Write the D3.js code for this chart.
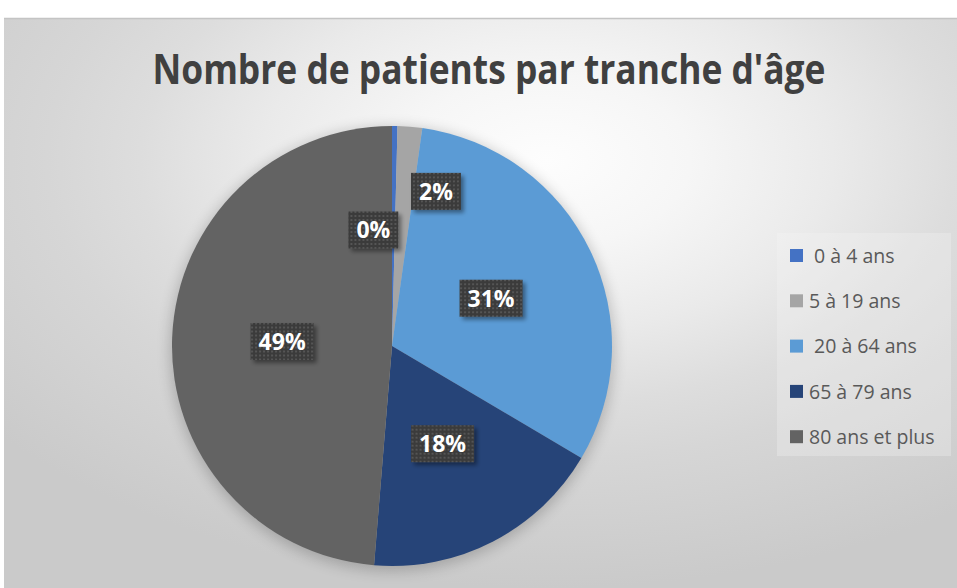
<!DOCTYPE html>
<html><head><meta charset="utf-8">
<script src="https://cdn.jsdelivr.net/npm/d3@7/dist/d3.min.js"></script>
<style>html,body{margin:0;padding:0;background:#fff;}svg{display:block;}</style>
</head><body>
<script>
const title = "Nombre de patients par tranche d'âge";
const categories = [" 0 à 4 ans", "5 à 19 ans", " 20 à 64 ans", "65 à 79 ans", "80 ans et plus"];
const values = [0.4, 1.8, 31.3, 17.8, 48.7];
const labelTexts = ["0%", "2%", "31%", "18%", "49%"];
const colors = ["#4472C4", "#A5A5A5", "#5B9BD5", "#264478", "#636363"];
// best-fit nudges Excel applied to small-slice labels
const labelNudges = [[-20, -6], [35, -45], [0, 0], [0, 0], [0, 0]];

const W = 957, H = 588;
const svg = d3.select("body").append("svg").attr("width", W).attr("height", H);
const defs = svg.append("defs");

const grad = defs.append("radialGradient").attr("id", "bg")
  .attr("cx", 0.57).attr("cy", 0.25).attr("r", 0.75).attr("fx", 0.57).attr("fy", 0.25);
[[0, "#fdfdfd"], [0.2, "#f6f6f6"], [0.4, "#eaeaea"], [0.57, "#dddddd"], [0.7, "#d6d6d6"], [1, "#cacaca"]]
  .forEach(([o, c]) => grad.append("stop").attr("offset", o).attr("stop-color", c));

const pat = defs.append("pattern").attr("id", "dots").attr("patternUnits", "userSpaceOnUse")
  .attr("width", 4).attr("height", 4);
pat.append("rect").attr("width", 4).attr("height", 4).attr("fill", "#3a3a3a");
pat.append("rect").attr("x", 1).attr("y", 1).attr("width", 2).attr("height", 2).attr("fill", "#545454");

const blur = defs.append("filter").attr("id", "glow").attr("x", "-20%").attr("y", "-20%").attr("width", "140%").attr("height", "140%");
blur.append("feGaussianBlur").attr("stdDeviation", 7);
const sh = defs.append("filter").attr("id", "lblsh").attr("x", "-30%").attr("y", "-30%").attr("width", "160%").attr("height", "160%");
sh.append("feGaussianBlur").attr("in", "SourceAlpha").attr("stdDeviation", 2).attr("result", "b");
sh.append("feOffset").attr("in", "b").attr("dx", 3).attr("dy", 3).attr("result", "o");
sh.append("feComponentTransfer").attr("in", "o").attr("result", "o2")
  .append("feFuncA").attr("type", "linear").attr("slope", 0.4);
const m = sh.append("feMerge");
m.append("feMergeNode").attr("in", "o2");
m.append("feMergeNode").attr("in", "SourceGraphic");

// chart area
svg.append("rect").attr("x", 4).attr("y", 18).attr("width", W - 4).attr("height", H - 18)
  .attr("fill", "url(#bg)");
svg.append("line").attr("x1", 4).attr("x2", W).attr("y1", 18.5).attr("y2", 18.5)
  .attr("stroke", "#c4c4c4").attr("stroke-width", 1.5);

// title
svg.append("text").attr("x", 489).attr("y", 84).attr("text-anchor", "middle")
  .attr("font-family", "Open Sans, sans-serif").attr("font-weight", "bold").attr("font-size", 41)
  .attr("fill", "#404040").attr("textLength", 673).attr("lengthAdjust", "spacingAndGlyphs")
  .text(title);

// pie
const cx = 392, cy = 346, R = 220;
const g = svg.append("g").attr("transform", `translate(${cx},${cy})`);
g.append("circle").attr("r", R + 2).attr("cy", 3).attr("fill", "#000").attr("opacity", 0.2).attr("filter", "url(#glow)");

const pie = d3.pie().sort(null).value(d => d);
const arcs = pie(values);
const arc = d3.arc().innerRadius(0).outerRadius(R);
g.selectAll("path.slice").data(arcs).join("path").attr("class", "slice")
  .attr("d", arc).attr("fill", (d, i) => colors[i]);

// labels
const labelArc = d3.arc().innerRadius(R * 0.5).outerRadius(R * 0.5);
const lg = g.selectAll("g.lbl").data(arcs).join("g").attr("class", "lbl")
  .attr("transform", (d, i) => {
    const [x, y] = labelArc.centroid(d);
    return `translate(${x + labelNudges[i][0]},${y + labelNudges[i][1]})`;
  });
lg.each(function (d, i) {
  const el = d3.select(this);
  const t = el.append("text").attr("text-anchor", "middle").attr("dy", "0.36em")
    .attr("font-family", "Open Sans, sans-serif").attr("font-weight", "bold").attr("font-size", 23)
    .attr("fill", "#fff").text(labelTexts[i]);
  const w = t.node().getComputedTextLength();
  const bw = w + 16, bh = 37;
  el.insert("rect", "text").attr("x", -bw / 2).attr("y", -bh / 2).attr("width", bw).attr("height", bh)
    .attr("fill", "url(#dots)").attr("filter", "url(#lblsh)");
});

// legend
const legX = 777, legY = 233, legW = 174, legH = 223;
svg.append("rect").attr("x", legX).attr("y", legY).attr("width", legW).attr("height", legH)
  .attr("fill", "#f4f4f4").attr("opacity", 0.3);
const legend = svg.selectAll("g.leg").data(categories).join("g").attr("class", "leg")
  .attr("transform", (d, i) => `translate(${legX + 13},${legY + 23 + i * 45.3})`);
legend.append("rect").attr("x", 0).attr("y", -7).attr("width", 13).attr("height", 13)
  .attr("fill", (d, i) => colors[i]);
legend.append("text").attr("x", 19).attr("dy", "0.35em").style("white-space", "pre")
  .attr("font-family", "Open Sans, sans-serif").attr("font-size", 19.5).attr("fill", "#595959")
  .text(d => d);
</script>
</body></html>
